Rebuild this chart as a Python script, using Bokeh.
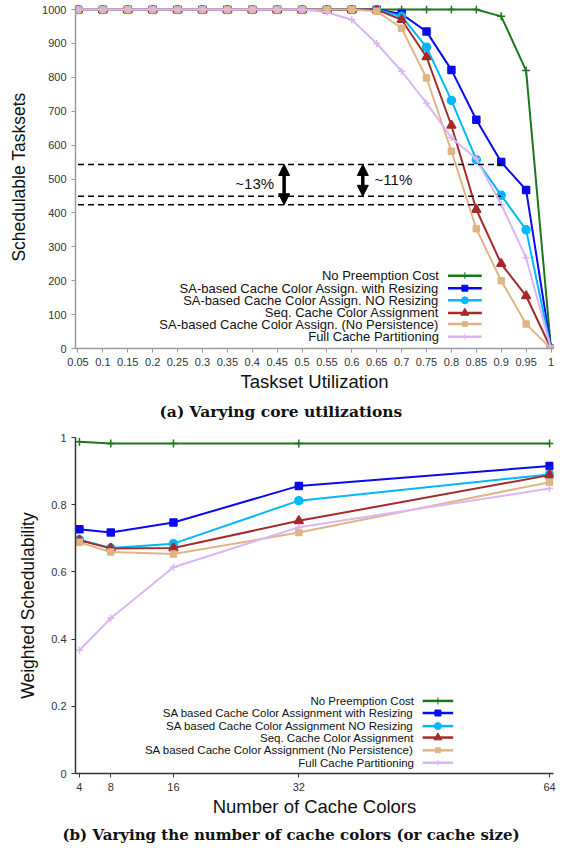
from bokeh.plotting import figure
from bokeh.layouts import column
from bokeh.models import Range1d, FixedTicker, Arrow, NormalHead
from bokeh.core.properties import value
from bokeh.embed import file_html
from bokeh.resources import INLINE

# ---------------- chart (a) data ----------------
util = [0.05, 0.1, 0.15, 0.2, 0.25, 0.3, 0.35, 0.4, 0.45, 0.5,
        0.55, 0.6, 0.65, 0.7, 0.75, 0.8, 0.85, 0.9, 0.95, 1.0]
util_labels = ["0.05", "0.1", "0.15", "0.2", "0.25", "0.3", "0.35", "0.4", "0.45", "0.5",
               "0.55", "0.6", "0.65", "0.7", "0.75", "0.8", "0.85", "0.9", "0.95", "1"]
y_ticks_a = [0, 100, 200, 300, 400, 500, 600, 700, 800, 900, 1000]

a_no_preempt = [1000, 1000, 1000, 1000, 1000, 1000, 1000, 1000, 1000, 1000,
                1000, 1000, 1000, 1000, 1000, 1000, 1000, 980, 820, 0]
a_sa_resize = [1000, 1000, 1000, 1000, 1000, 1000, 1000, 1000, 1000, 1000,
               1000, 1000, 1000, 987, 935, 822, 675, 550, 468, 0]
a_sa_noresize = [1000, 1000, 1000, 1000, 1000, 1000, 1000, 1000, 1000, 1000,
                 1000, 1000, 1000, 980, 889, 732, 557, 452, 350, 0]
a_seq = [1000, 1000, 1000, 1000, 1000, 1000, 1000, 1000, 1000, 1000,
         1000, 1000, 1000, 970, 860, 658, 410, 250, 155, 0]
a_sa_nopersist = [1000, 1000, 1000, 1000, 1000, 1000, 1000, 1000, 1000, 1000,
                  1000, 1000, 995, 945, 798, 582, 353, 200, 72, 0]
a_full_part = [1000, 1000, 1000, 1000, 1000, 1000, 1000, 1000, 1000, 1000,
               992, 970, 900, 818, 724, 622, 560, 425, 268, 0]

names_a = ["No Preemption Cost",
           "SA-based Cache Color Assign. with Resizing",
           "SA-based Cache Color Assign. NO Resizing",
           "Seq. Cache Color Assignment",
           "SA-based Cache Color Assign. (No Persistence)",
           "Full Cache Partitioning"]

gap_levels = [543, 449, 424]
gap_end = 0.9
gap_arrows = [(0.464, 543, 424), (0.622, 543, 449)]
gap_texts = ["~13%", "~11%"]
gap_text_pos = [(0.405, 487), (0.6835, 499)]

# ---------------- chart (b) data ----------------
colors_n = [4, 8, 16, 32, 64]
b_no_preempt = [0.987, 0.982, 0.982, 0.982, 0.982]
b_sa_resize = [0.727, 0.717, 0.747, 0.856, 0.915]
b_sa_noresize = [0.696, 0.671, 0.684, 0.812, 0.890]
b_seq = [0.694, 0.670, 0.671, 0.752, 0.888]
b_sa_nopersist = [0.688, 0.659, 0.653, 0.717, 0.867]
b_full_part = [0.367, 0.462, 0.614, 0.733, 0.848]
y_ticks_b = [0, 0.2, 0.4, 0.6, 0.8, 1.0]
y_tick_labels_b = ["0", "0.2", "0.4", "0.6", "0.8", "1"]

names_b = ["No Preemption Cost",
           "SA based Cache Color Assignment with Resizing",
           "SA based Cache Color Assignment NO Resizing",
           "Seq. Cache Color Assignment",
           "SA based Cache Color Assignment (No Persistence)",
           "Full Cache Partitioning"]

# ---------------- styles ----------------
SANS = "Liberation Sans"
SERIF = "DejaVu Serif"
line_colors = ["#1d751d", "#0a0af0", "#00b8ff", "#a52a2a", "#e0b585", "#dab6f6"]
markers = ["cross", "square", "circle", "triangle", "square", "cross"]
msizes = [8, 7, 8, 9, 6, 7]


def style(p, axis_color):
    p.xgrid.visible = False
    p.ygrid.visible = False
    p.outline_line_color = None
    p.background_fill_color = "white"
    for ax in (p.xaxis, p.yaxis):
        ax.axis_line_color = axis_color
        ax.axis_line_width = 1.5
        ax.major_tick_line_color = axis_color
        ax.minor_tick_line_color = None
        ax.major_tick_in = 0
        ax.major_tick_out = 4
        ax.major_label_text_font = SANS
        ax.major_label_text_font_size = "11px"
        ax.major_label_text_color = "#333333"
        ax.axis_label_text_font = SANS
        ax.axis_label_text_font_style = "normal"
        ax.axis_label_text_color = "#111111"
    p.xaxis.axis_label_text_font_size = "18.5px"
    p.yaxis.axis_label_text_font_size = "17.5px"
    p.title.text_font = SERIF
    p.title.text_font_style = "bold"
    p.title.text_font_size = "15.5px"
    p.title.text_color = "#111111"


# ---------------- figure (a) ----------------
p1 = figure(width=569, height=432, output_backend="svg", toolbar_location=None,
            x_range=Range1d(0.045, 1.005), y_range=Range1d(0, 1012),
            min_border_left=75, min_border_right=16, min_border_top=5, min_border_bottom=84,
            title="(a) Varying core utilizations", title_location="below")
style(p1, "#9a9a9a")
p1.xaxis.ticker = FixedTicker(ticks=util)
p1.xaxis.major_label_overrides = {u: l for u, l in zip(util, util_labels)}
p1.yaxis.ticker = FixedTicker(ticks=y_ticks_a)
p1.xaxis.axis_label = "Taskset Utilization"
p1.yaxis.axis_label = "Schedulable Tasksets"
p1.yaxis.axis_label_standoff = 10
p1.xaxis.axis_label_standoff = 2
p1.title.align = "left"
p1.title.offset = 84

series_a = [a_no_preempt, a_sa_resize, a_sa_noresize, a_seq, a_sa_nopersist, a_full_part]
for ys, c, m, s in zip(series_a, line_colors, markers, msizes):
    p1.line(util, ys, line_color=c, line_width=2)
    p1.scatter(util, ys, marker=m, size=s, line_color=c, fill_color=c, line_width=1.5)

# dashed reference levels
p1.segment(x0=[util[0]] * len(gap_levels), y0=gap_levels,
           x1=[gap_end] * len(gap_levels), y1=gap_levels,
           line_color="black", line_width=1.5, line_dash="6 4")
for (gx, gy0, gy1) in gap_arrows:
    p1.add_layout(Arrow(x_start=gx, y_start=gy0, x_end=gx, y_end=gy1,
                        line_width=3.5, line_color="black",
                        start=NormalHead(size=11, fill_color="black", line_color="black"),
                        end=NormalHead(size=11, fill_color="black", line_color="black")))
p1.text(x=[t[0] for t in gap_text_pos], y=[t[1] for t in gap_text_pos], text=gap_texts,
        text_font=value(SANS), text_font_size="15px", text_align="center",
        text_baseline="middle", text_color="#111111")

# legend (a)
leg_a_rows = [215, 178, 142, 105, 72, 35]
leg_a_text_x, leg_a_x0, leg_a_x1 = 0.775, 0.793, 0.861
p1.text(x=[leg_a_text_x] * 6, y=leg_a_rows, text=names_a,
        text_font=value(SANS), text_font_size="13px", text_align="right",
        text_baseline="middle", text_color="#111111")
for yy, c, m, s in zip(leg_a_rows, line_colors, markers, msizes):
    p1.segment(x0=[leg_a_x0], y0=[yy], x1=[leg_a_x1], y1=[yy], line_color=c, line_width=2.5)
    p1.scatter([(leg_a_x0 + leg_a_x1) / 2], [yy], marker=m, size=s - 1,
               line_color=c, fill_color=c)

# ---------------- figure (b) ----------------
p2 = figure(width=569, height=416, output_backend="svg", toolbar_location=None,
            x_range=Range1d(3.5, 64.5), y_range=Range1d(0, 1.0),
            min_border_left=66, min_border_right=13, min_border_top=5, min_border_bottom=75,
            title="(b) Varying the number of cache colors (or cache size)", title_location="below")
style(p2, "#333333")
p2.title.text_font_size = "15px"
p2.title.standoff = 8
p2.xaxis.ticker = FixedTicker(ticks=colors_n)
p2.yaxis.ticker = FixedTicker(ticks=y_ticks_b)
p2.yaxis.major_label_overrides = {v: l for v, l in zip(y_ticks_b, y_tick_labels_b)}
p2.xaxis.axis_label = "Number of Cache Colors"
p2.yaxis.axis_label = "Weighted Schedulability"
p2.yaxis.axis_label_standoff = 10
p2.xaxis.axis_label_standoff = 2
p2.title.align = "left"
p2.title.offset = -13

series_b = [b_no_preempt, b_sa_resize, b_sa_noresize, b_seq, b_sa_nopersist, b_full_part]
for ys, c, m, s in zip(series_b, line_colors, markers, msizes):
    p2.line(colors_n, ys, line_color=c, line_width=2)
    p2.scatter(colors_n, ys, marker=m, size=s, line_color=c, fill_color=c, line_width=1.5)

leg_b_rows = [0.216, 0.180, 0.141, 0.107, 0.069, 0.032]
leg_b_text_x, leg_b_x0, leg_b_x1 = 46.7, 47.8, 51.7
p2.text(x=[leg_b_text_x] * 6, y=leg_b_rows, text=names_b,
        text_font=value(SANS), text_font_size="11.5px", text_align="right",
        text_baseline="middle", text_color="#111111")
for yy, c, m, s in zip(leg_b_rows, line_colors, markers, msizes):
    p2.segment(x0=[leg_b_x0], y0=[yy], x1=[leg_b_x1], y1=[yy], line_color=c, line_width=2.5)
    p2.scatter([(leg_b_x0 + leg_b_x1) / 2], [yy], marker=m, size=s - 1,
               line_color=c, fill_color=c)

page = column(p1, p2, spacing=0)
open("out.html", "w").write(file_html(page, INLINE))
